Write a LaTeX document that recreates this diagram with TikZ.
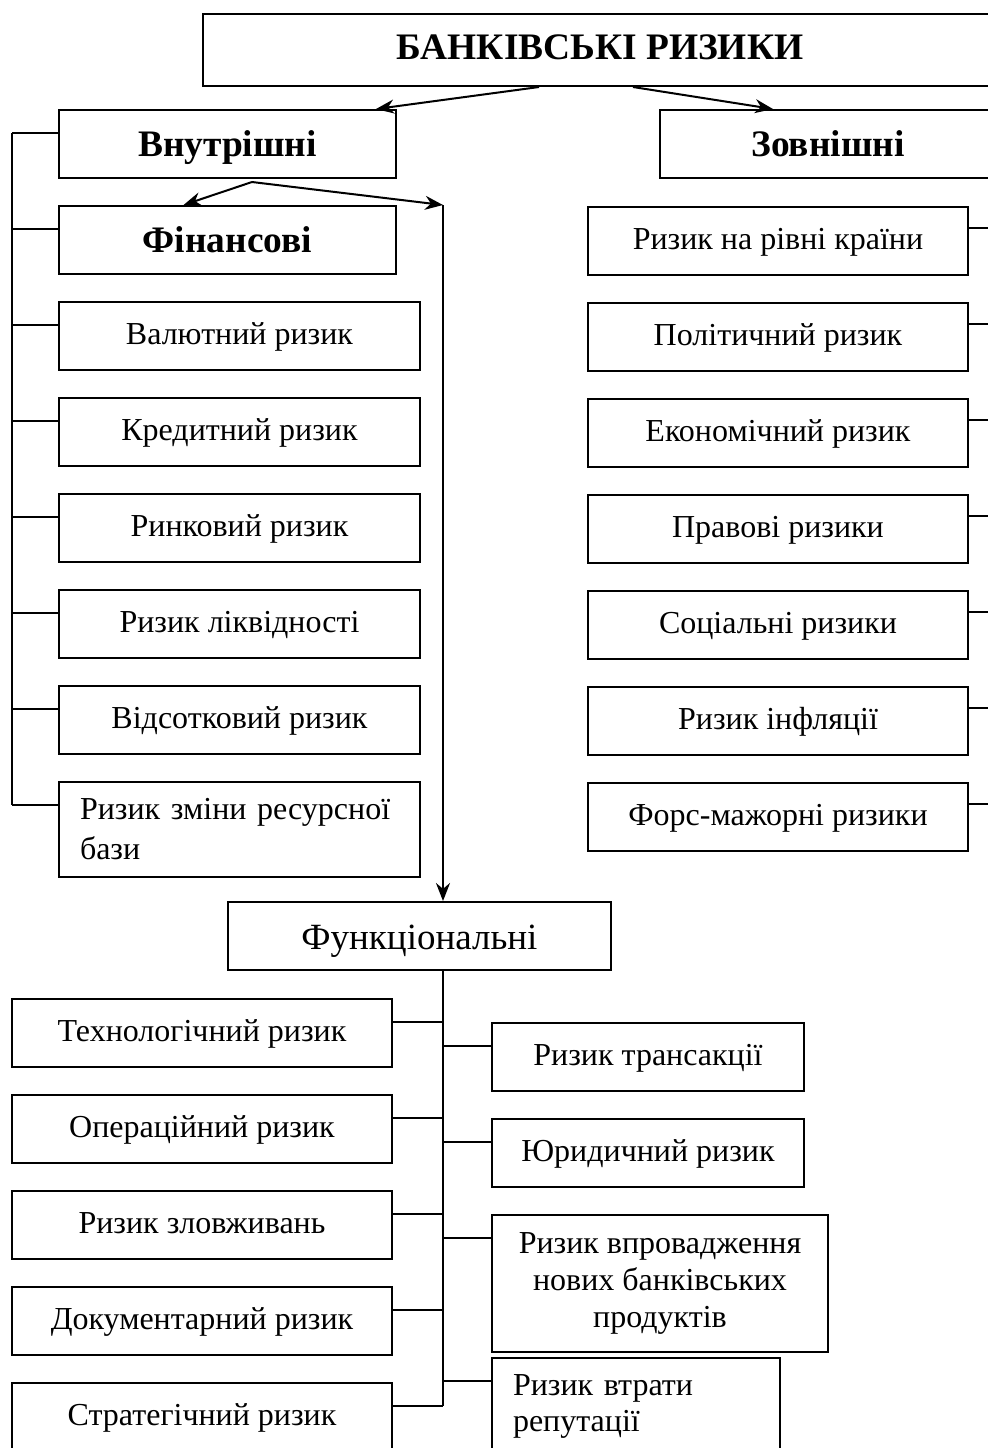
\documentclass[tikz,border=0pt]{standalone}
\usepackage{fontspec}
\setmainfont{Liberation Serif}
\usetikzlibrary{positioning, arrows.meta}

\tikzset{
  box/.style={draw, line width=1pt, inner sep=0pt, align=center, minimum height=34pt, font=\fontsize{16}{19}\selectfont},
  item/.style={box, text height=12pt, text depth=4pt},
  head/.style={box, font=\fontsize{18.7}{21}\selectfont\bfseries, text height=15pt, text depth=3pt},
  link/.style={line width=1pt},
  arr/.style={link, -{Stealth[length=9pt,width=7pt]}},
}

\begin{document}
\begin{tikzpicture}[x=0.5pt, y=-0.5pt, node distance=13pt]
\useasboundingbox (0,0) rectangle (988,1448);
\clip (0,0) rectangle (988,1448);

% top level
\node[head, text height=13.5pt, text depth=4.5pt, minimum width=397pt, minimum height=36pt] (bank) at (600,50) {БАНКІВСЬКІ РИЗИКИ};
\node[head, minimum width=168.5pt] (vin) at (227.5,144) {Внутрішні};
\node[head, minimum width=168pt] (zovn) at (828,144) {Зовнішні};

% internal
\node[head, minimum width=168.5pt, below=of vin] (fin) {Фінансові};
\node[item, minimum width=180.5pt, below=of fin.south west, anchor=north west] (val) {Валютний ризик};
\node[item, minimum width=180.5pt, below=of val] (kred) {Кредитний ризик};
\node[item, minimum width=180.5pt, below=of kred] (rynk) {Ринковий ризик};
\node[item, minimum width=180.5pt, below=of rynk] (likv) {Ризик ліквідності};
\node[item, minimum width=180.5pt, below=of likv] (vids) {Відсотковий ризик};
\node[box, minimum width=180.5pt, minimum height=47.5pt, text width=159.5pt, inner xsep=10.5pt, align=left, font=\fontsize{16}{20}\selectfont, below=of vids] (resb) {Ризик зміни ресурсної\\бази};

% external
\node[item, minimum width=190pt, anchor=north west] (kraina) at (587,206) {Ризик на рівні країни};
\node[item, minimum width=190pt, below=of kraina] (polit) {Політичний ризик};
\node[item, minimum width=190pt, below=of polit] (ekon) {Економічний ризик};
\node[item, minimum width=190pt, below=of ekon] (prav) {Правові ризики};
\node[item, minimum width=190pt, below=of prav] (soc) {Соціальні ризики};
\node[item, minimum width=190pt, below=of soc] (infl) {Ризик інфляції};
\node[item, minimum width=190pt, below=of infl] (fors) {Форс-мажорні ризики};

% functional
\node[item, minimum width=191.5pt, font=\fontsize{18.5}{22}\selectfont, text height=14.5pt, text depth=1.5pt] (func) at (419.5,936) {Функціональні};
\node[item, minimum width=190pt, anchor=north west] (tech) at (11,998) {Технологічний ризик};
\node[item, minimum width=190pt, below=of tech] (oper) {Операційний ризик};
\node[item, minimum width=190pt, below=of oper] (zlov) {Ризик зловживань};
\node[item, minimum width=190pt, below=of zlov] (dok) {Документарний ризик};
\node[item, minimum width=190pt, below=of dok] (strat) {Стратегічний ризик};
\node[item, minimum width=156pt, anchor=north west] (trans) at (491,1022) {Ризик трансакції};
\node[item, minimum width=156pt, below=of trans] (yur) {Юридичний ризик};
\node[box, minimum width=168pt, minimum height=68.5pt, font=\fontsize{16}{18.5}\selectfont, below=of yur.south west, anchor=north west] (vpr) {Ризик впровадження\\нових банківських\\продуктів};
\node[box, minimum width=144pt, minimum height=48pt, text width=123pt, inner xsep=10.5pt, align=left, font=\fontsize{16}{18}\selectfont, below=2pt of vpr.south west, anchor=north west] (vtr) {Ризик втрати\\репутації};

% arrows
\coordinate (vsplit) at (252,182);
\coordinate (fcorner) at (443,205);
\coordinate (lbus) at (12,0);
\coordinate (rbus) at (994,0);
\draw[arr] ([xshift=-30.5pt]bank.south) -- ([xshift=-10.5pt]vin.north east);
\draw[arr] ([xshift=16.5pt]bank.south) -- ([xshift=57pt]zovn.north west);
\draw[arr] (vsplit) -- ([xshift=-22pt]fin.north);
\draw[arr] (vsplit) -- (fcorner);
\draw[arr] (fcorner) -- (fcorner |- func.north);

% ticks
\foreach \b in {vin,fin,val,kred,rynk,likv,vids,resb}{
  \coordinate (\b-t) at ([yshift=-12pt]\b.north west);
  \draw[link] (\b-t) -- (\b-t -| lbus);
}
\draw[link] (vin-t -| lbus) -- (resb-t -| lbus);
\foreach \b in {kraina,polit,ekon,prav,soc,infl,fors}{
  \coordinate (\b-t) at ([yshift=-11pt]\b.north east);
  \draw[link] (\b-t) -- (\b-t -| rbus);
}
\foreach \b in {tech,oper,zlov,dok,strat}{
  \coordinate (\b-t) at ([yshift=-12pt]\b.north east);
  \draw[link] (\b-t) -- (\b-t -| fcorner);
}
\foreach \b in {trans,yur,vpr,vtr}{
  \coordinate (\b-t) at ([yshift=-12pt]\b.north west);
  \draw[link] (\b-t) -- (\b-t -| fcorner);
}
\draw[link] (fcorner |- func.south) -- (strat-t -| fcorner);
\end{tikzpicture}
\end{document}
